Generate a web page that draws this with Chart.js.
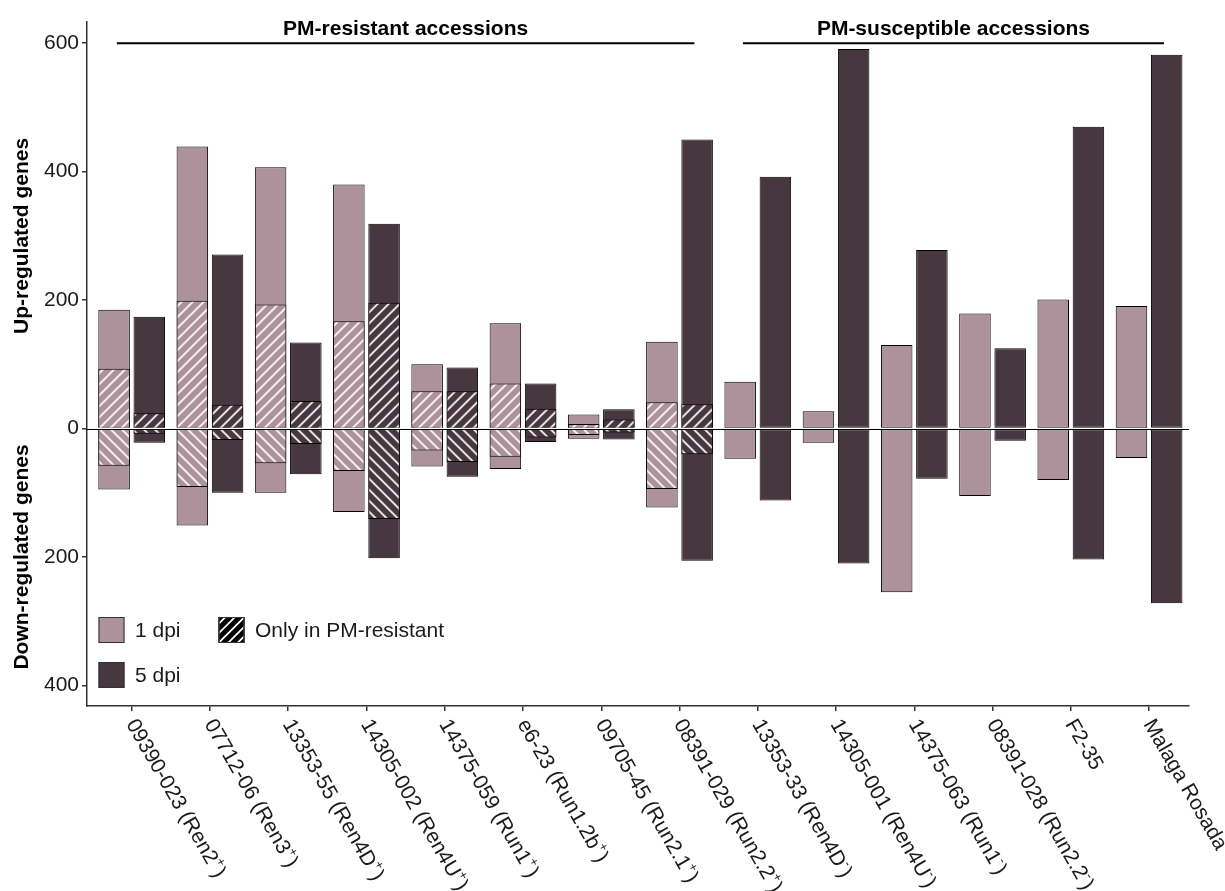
<!DOCTYPE html>
<html>
<head>
<meta charset="utf-8">
<title>Differentially expressed genes</title>
<script src="https://cdn.jsdelivr.net/npm/chart.js@4.4.1/dist/chart.umd.min.js"></script>
<style>
  html, body { margin: 0; padding: 0; background: #ffffff; }
  #wrap { width: 1225px; height: 891px; position: relative; }
</style>
</head>
<body>
<div id="wrap"><canvas id="chart"></canvas></div>
<script>
// Accessions, their resistance locus and allele state
const accessions = ['09390-023', '07712-06', '13353-55', '14305-002', '14375-059', 'e6-23', '09705-45',
                    '08391-029', '13353-33', '14305-001', '14375-063', '08391-028', 'F2-35', 'Malaga Rosada'];
const loci    = ['Ren2', 'Ren3', 'Ren4D', 'Ren4U', 'Run1', 'Run1.2b', 'Run2.1', 'Run2.2',
                 'Ren4D', 'Ren4U', 'Run1', 'Run2.2', '', ''];
const alleles = ['+', '+', '+', '+', '+', '+', '+', '+', '-', '-', '-', '-', '', ''];

// Number of up- and down-regulated genes (all genes) at 1 and 5 days post inoculation
const up1dpi   = [185, 439, 407, 380, 100, 164, 22, 135, 73, 27, 130, 179, 201, 191];
const down1dpi = [95, 151, 100, 130, 59, 63, 16, 123, 47, 22, 255, 105, 80, 46];
const up5dpi   = [174, 271, 134, 319, 95, 70, 30, 450, 392, 591, 278, 125, 470, 582];
const down5dpi = [22, 100, 71, 202, 75, 21, 17, 206, 112, 210, 78, 19, 204, 272];

// Genes regulated only in the PM-resistant accessions
const upOnly1dpi   = [93, 199, 193, 167, 58, 70, 7, 41, null, null, null, null, null, null];
const downOnly1dpi = [58, 91, 54, 66, 34, 44, 10, 94, null, null, null, null, null, null];
const upOnly5dpi   = [24, 37, 43, 196, 58, 31, 14, 38, null, null, null, null, null, null];
const downOnly5dpi = [8, 18, 24, 141, 52, 14, 6, 40, null, null, null, null, null, null];

// Axis ticks and accession groups
const yTicks = [-400, -200, 0, 200, 400, 600];
const groups = [
  { name: 'PM-resistant accessions', first: 0, last: 7 },
  { name: 'PM-susceptible accessions', first: 8, last: 13 }
];

const COL_1DPI = '#ad929b';
const COL_5DPI = '#47373f';
const FONT = "'Liberation Sans', Arial, Helvetica, sans-serif";
const INK = '#1a1a1a';
const AXIS = '#333333';

// Hatch fill: white diagonal stripes anchored on the zero line so that the
// up ('/') and down ('\') halves meet as chevrons.
const patternCache = {};
function stripes(ctx2d, base, dir, y0) {
  const key = base + dir + Math.round(y0 || 0);
  if (patternCache[key]) return patternCache[key];
  const s = 11;
  const tile = document.createElement('canvas');
  tile.width = s; tile.height = s;
  const g = tile.getContext('2d');
  g.fillStyle = base;
  g.fillRect(0, 0, s, s);
  g.strokeStyle = '#ffffff';
  g.lineWidth = 1.7;
  g.beginPath();
  if (dir > 0) {
    g.moveTo(-2, s + 2); g.lineTo(s + 2, -2);
    g.moveTo(-2, 2); g.lineTo(2, -2);
    g.moveTo(s - 2, s + 2); g.lineTo(s + 2, s - 2);
  } else {
    g.moveTo(-2, -2); g.lineTo(s + 2, s + 2);
    g.moveTo(s - 2, -2); g.lineTo(s + 2, 2);
    g.moveTo(-2, s - 2); g.lineTo(2, s + 2);
  }
  g.stroke();
  const p = ctx2d.createPattern(tile, 'repeat');
  p.setTransform(new DOMMatrix().translate(0, y0 || 0));
  patternCache[key] = p;
  return p;
}
function hatchFill(base, dir) {
  return (c) => {
    const chart = c.chart;
    const ys = chart.scales && chart.scales.y;
    let y0 = ys ? ys.getPixelForValue(0) : 0;
    if (!isFinite(y0)) y0 = 0;
    return stripes(chart.ctx, base, dir, y0);
  };
}

// Floating bars from zero to +value (up) or -value (down)
function toBars(values, sign) {
  const out = [];
  values.forEach((v, i) => { if (v !== null) out.push({ x: i, y: [0, sign * v] }); });
  return out;
}

function barSet(label, values, sign, stack, fill, order, skipped) {
  return {
    label, stack, order,
    data: toBars(values, sign),
    backgroundColor: fill,
    borderColor: '#000000',
    borderWidth: 1,
    borderSkipped: skipped,
    categoryPercentage: 0.9,
    barPercentage: 0.895
  };
}

const datasets = [
  barSet('1 dpi only up', upOnly1dpi, 1, 'd1', hatchFill(COL_1DPI, 1), 0, 'start'),
  barSet('1 dpi only down', downOnly1dpi, -1, 'd1', hatchFill(COL_1DPI, -1), 0, 'start'),
  barSet('5 dpi only up', upOnly5dpi, 1, 'd5', hatchFill(COL_5DPI, 1), 0, 'start'),
  barSet('5 dpi only down', downOnly5dpi, -1, 'd5', hatchFill(COL_5DPI, -1), 0, 'start'),
  barSet('1 dpi up', up1dpi, 1, 'd1', COL_1DPI, 1, false),
  barSet('1 dpi down', down1dpi, -1, 'd1', COL_1DPI, 1, false),
  barSet('5 dpi up', up5dpi, 1, 'd5', COL_5DPI, 1, false),
  barSet('5 dpi down', down5dpi, -1, 'd5', COL_5DPI, 1, false)
];

// Zero line, group headers, axis titles, rotated accession labels and legend
const decorations = {
  id: 'decorations',
  afterDatasetsDraw(chart) {
    const { ctx, chartArea: a, scales: { y } } = chart;
    const y0 = Math.round(y.getPixelForValue(0)) + 0.5;
    ctx.save();
    ctx.strokeStyle = '#000000';
    ctx.lineWidth = 1;
    ctx.beginPath();
    ctx.moveTo(a.left, y0);
    ctx.lineTo(a.right, y0);
    ctx.stroke();
    ctx.restore();
  },
  afterDraw(chart) {
    const { ctx, chartArea: a, scales: { x, y } } = chart;
    ctx.save();

    // group headers
    const lineY = y.getPixelForValue(600);
    groups.forEach(gr => {
      const x1 = x.getPixelForValue(gr.first - 0.19);
      const x2 = x.getPixelForValue(gr.last + 0.19);
      ctx.strokeStyle = '#000000';
      ctx.lineWidth = 2;
      ctx.beginPath();
      ctx.moveTo(x1, lineY);
      ctx.lineTo(x2, lineY);
      ctx.stroke();
      ctx.fillStyle = '#000000';
      ctx.font = 'bold 21px ' + FONT;
      ctx.textAlign = 'center';
      ctx.textBaseline = 'alphabetic';
      ctx.fillText(gr.name, (x1 + x2) / 2, lineY - 8);
    });

    // y axis titles
    ctx.font = 'bold 21px ' + FONT;
    ctx.fillStyle = '#000000';
    ctx.textAlign = 'center';
    ctx.textBaseline = 'middle';
    [['Up-regulated genes', 300], ['Down-regulated genes', -200]].forEach(([t, v]) => {
      ctx.save();
      ctx.translate(22, y.getPixelForValue(v));
      ctx.rotate(-Math.PI / 2);
      ctx.fillText(t, 0, 0);
      ctx.restore();
    });

    // accession labels, rotated 60 degrees clockwise
    accessions.forEach((name, i) => {
      const parts = loci[i]
        ? [{ t: name + ' (' + loci[i] }, { t: alleles[i], sup: true }, { t: ')' }]
        : [{ t: name }];
      ctx.save();
      ctx.translate(x.getPixelForValue(i) - 1, a.bottom + 15);
      ctx.rotate(Math.PI / 3);
      ctx.textAlign = 'left';
      ctx.textBaseline = 'middle';
      ctx.fillStyle = INK;
      let cx = 0;
      parts.forEach(p => {
        ctx.font = (p.sup ? '13px ' : '21px ') + FONT;
        ctx.fillText(p.t, cx, p.sup ? -7 : 0);
        cx += ctx.measureText(p.t).width + (p.sup ? 1 : 0);
      });
      ctx.restore();
    });

    // legend
    const bx = a.left + 11.5, r1 = a.bottom - 89, r2 = a.bottom - 44, bs = 26;
    const box = (x0, y0, fill) => {
      ctx.fillStyle = fill;
      ctx.fillRect(x0, y0, bs, bs);
      ctx.strokeStyle = AXIS;
      ctx.lineWidth = 1;
      ctx.strokeRect(x0 + 0.5, y0 + 0.5, bs - 1, bs - 1);
    };
    box(bx, r1, COL_1DPI);
    box(bx, r2, COL_5DPI);
    const hx = a.left + 131.5;
    box(hx, r1, '#000000');
    ctx.save();
    ctx.beginPath();
    ctx.rect(hx + 1, r1 + 1, bs - 2, bs - 2);
    ctx.clip();
    ctx.strokeStyle = '#ffffff';
    ctx.lineWidth = 1.8;
    ctx.beginPath();
    for (let k = -2; k <= 3; k++) {
      const ox = hx + k * 9.5;
      ctx.moveTo(ox, r1 + bs);
      ctx.lineTo(ox + bs, r1);
    }
    ctx.stroke();
    ctx.restore();
    ctx.strokeStyle = AXIS;
    ctx.lineWidth = 1;
    ctx.strokeRect(hx + 0.5, r1 + 0.5, bs - 1, bs - 1);

    ctx.font = '21px ' + FONT;
    ctx.fillStyle = INK;
    ctx.textAlign = 'left';
    ctx.textBaseline = 'middle';
    ctx.fillText('1 dpi', a.left + 48, r1 + bs / 2 + 1);
    ctx.fillText('5 dpi', a.left + 48, r2 + bs / 2 + 1);
    ctx.fillText('Only in PM-resistant', a.left + 168, r1 + bs / 2 + 1);

    ctx.restore();
  }
};

new Chart(document.getElementById('chart'), {
  type: 'bar',
  data: { datasets },
  options: {
    responsive: true,
    maintainAspectRatio: false,
    animation: false,
    layout: { padding: { top: 22, right: 36, bottom: 0, left: 0 } },
    plugins: { legend: { display: false }, tooltip: { enabled: false } },
    scales: {
      x: {
        type: 'linear',
        offset: false,
        min: -0.571,
        max: 13.51,
        afterBuildTicks: (s) => { s.ticks = accessions.map((_, i) => ({ value: i })); },
        afterFit: (s) => { s.height = 185; },
        ticks: { display: false },
        grid: { display: true, offset: false, drawOnChartArea: false, drawTicks: true, tickLength: 5, color: AXIS, lineWidth: 1.5 },
        border: { display: true, color: AXIS, width: 1.5 }
      },
      y: {
        stacked: false,
        min: -432,
        max: 633,
        afterBuildTicks: (s) => { s.ticks = yTicks.map(v => ({ value: v })); },
        afterFit: (s) => { s.width = 87; },
        ticks: {
          callback: (v) => String(Math.abs(v)),
          color: INK,
          padding: 3,
          font: { family: FONT, size: 21 }
        },
        grid: { display: true, drawOnChartArea: false, drawTicks: true, tickLength: 5, color: AXIS, lineWidth: 1.5 },
        border: { display: true, color: AXIS, width: 1.5 }
      }
    }
  },
  plugins: [decorations]
});
</script>
</body>
</html>
